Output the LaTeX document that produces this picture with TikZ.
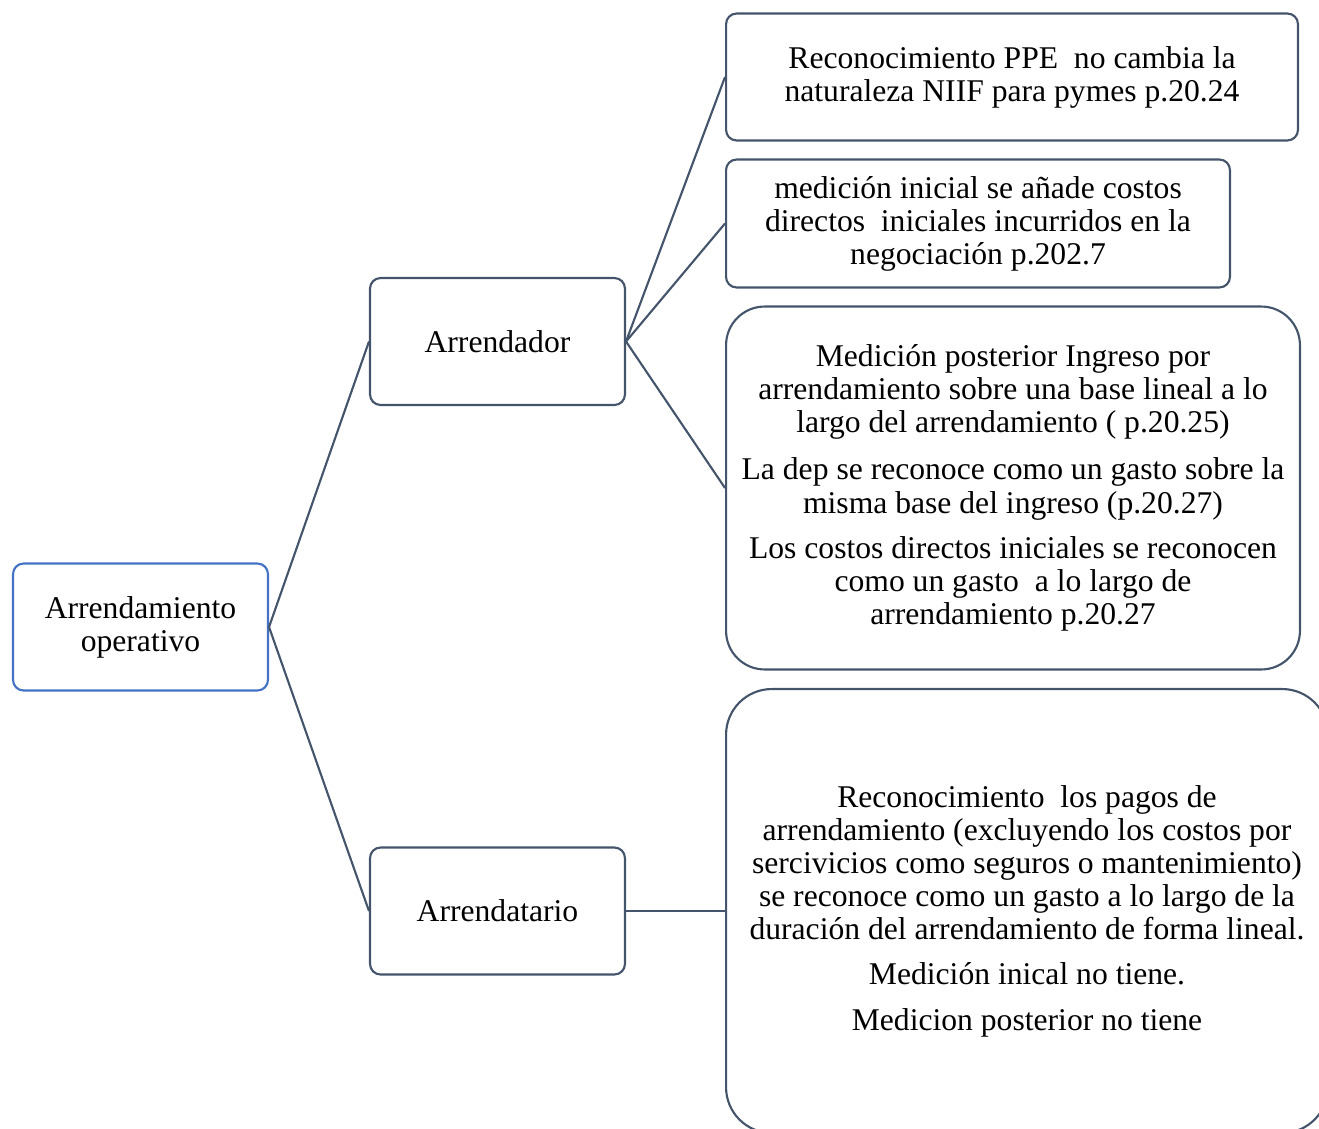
\documentclass[tikz,border=0pt]{standalone}
\usepackage{fontspec}
\setmainfont{Liberation Serif}
\usepackage{tikz}

\definecolor{linegray}{HTML}{44546A}
\definecolor{rootblue}{HTML}{4472C4}

\tikzset{
  box/.style={draw=linegray, line width=1.2pt, rounded corners=6pt, align=center,
    inner sep=0pt, font=\fontsize{18}{18.8}\selectfont},
  rootbox/.style={box, draw=rootblue},
  link/.style={draw=linegray, line width=1.2pt}
}

\begin{document}
\begin{tikzpicture}[x=0.02cm, y=-0.02cm]
  \clip (0,0) rectangle (1319,1129);
  \node[rootbox, minimum width=5.1cm, minimum height=2.54cm] (oper) at (140.5,627) {Arrendamiento\\operativo};
  \node[box, minimum width=5.1cm, minimum height=2.54cm] (dor) at (497.5,341.5) {Arrendador};
  \node[box, minimum width=5.1cm, minimum height=2.54cm] (tario) at (497.5,911) {Arrendatario};

  \node[box, minimum width=11.44cm, minimum height=2.54cm] (rec) at (1012,77)
    {Reconocimiento PPE\ \ no cambia la\\naturaleza NIIF\ para pymes p.20.24};
  \node[box, minimum width=10.08cm, minimum height=2.56cm] (ini) at (978,223.5)
    {medición inicial se añade costos\\directos\ \ iniciales incurridos en la\\negociación p.202.7};
  \node[box, rounded corners=22pt, minimum width=11.48cm, minimum height=7.26cm] (post) at (1013,488)
    {Medición posterior Ingreso por\\arrendamiento sobre una base lineal a lo\\largo del arrendamiento ( p.20.25)\\[8pt]
     La dep se reconoce como un gasto sobre la\\misma base del ingreso (p.20.27)\\[7pt]
     Los costos directos iniciales se reconocen\\como un gasto\ \ a lo largo de\\arrendamiento p.20.27};
  \node[box, rounded corners=26pt, minimum width=12.04cm, minimum height=8.88cm] (pagos) at (1027,911)
    {Reconocimiento\ \ los pagos de\\arrendamiento (excluyendo los costos por\\sercivicios como seguros o mantenimiento)\\se reconoce como un gasto a lo largo de la\\duración del arrendamiento de forma lineal.\\[7pt]
     Medición inical no tiene.\\[7pt]
     Medicion posterior no tiene};

  % ramas
  \draw[link] (oper.east) -- (dor.west);
  \draw[link] (oper.east) -- (tario.west);
  \draw[link] (dor.east) -- (rec.west);
  \draw[link] (dor.east) -- (ini.west);
  \draw[link] (dor.east) -- (post.west);
  \draw[link] (tario.east) -- (pagos.west);
\end{tikzpicture}
\end{document}
